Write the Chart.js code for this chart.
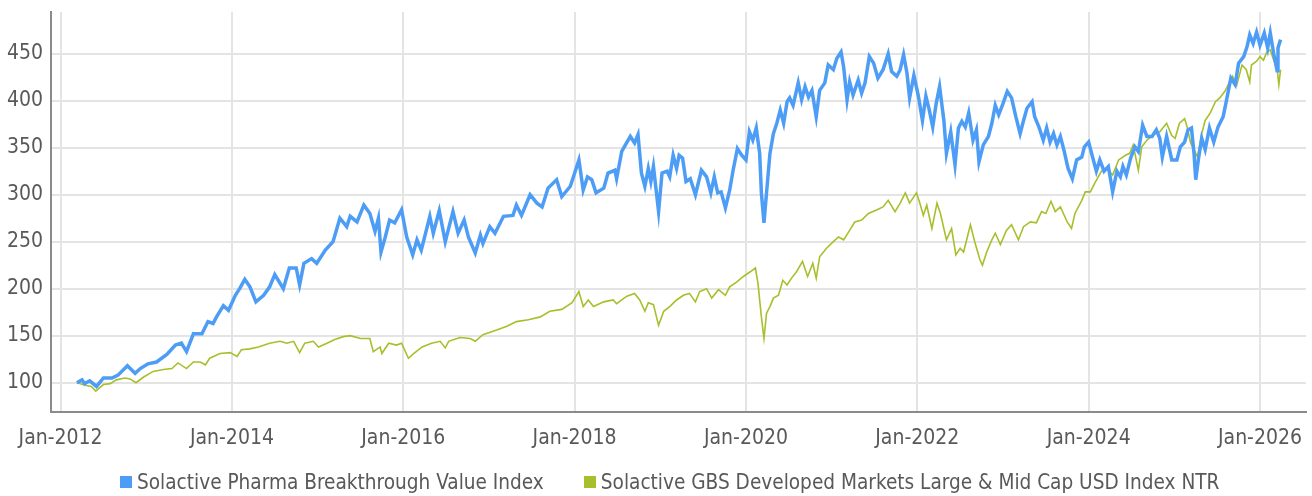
<!DOCTYPE html>
<html>
<head>
<meta charset="utf-8">
<title>Solactive Pharma Breakthrough Value Index</title>
<script src="https://cdn.jsdelivr.net/npm/chart.js@4.4.1/dist/chart.umd.min.js"></script>
<style>
  body { margin: 0; background: #fff; }
  #wrap { width: 1312px; height: 496px; position: relative; }
  #legend {
    position: absolute; left: 120px; top: 470px; height: 24px;
    display: flex; align-items: center;
    font-family: 'Liberation Sans Narrow', 'DejaVu Sans Condensed', Roboto, sans-serif;
    font-size: 20.6px; color: #595959; white-space: nowrap;
  }
  #legend .item { display: flex; align-items: center; margin-right: 40px; }
  #legend .box { width: 12px; height: 12px; margin-right: 5px; }
</style>
</head>
<body>
<div id="wrap">
  <canvas id="perfChart"></canvas>
  <div id="legend"></div>
</div>
<script>
// series names
const seriesNames = [
    'Solactive Pharma Breakthrough Value Index',
    'Solactive GBS Developed Markets Large & Mid Cap USD Index NTR'
];
const seriesColors = ['#4d9df6', '#a8bf2c'];

// dates as decimal years, one line per calendar year
const blueDates = [
    2012.19, 2012.25, 2012.28, 2012.34, 2012.42, 2012.50, 2012.60, 2012.67, 2012.78, 2012.87, 2012.93,
    2013.02, 2013.12, 2013.24, 2013.34, 2013.41, 2013.47, 2013.55, 2013.65, 2013.72, 2013.78, 2013.82, 2013.90, 2013.96,
    2014.04, 2014.09, 2014.15, 2014.21, 2014.28, 2014.37, 2014.44, 2014.50, 2014.60, 2014.67, 2014.75, 2014.79, 2014.84, 2014.93, 2014.99,
    2015.09, 2015.18, 2015.26, 2015.34, 2015.38, 2015.46, 2015.54, 2015.61, 2015.67, 2015.71, 2015.74, 2015.79, 2015.84, 2015.90, 2015.98,
    2016.04, 2016.11, 2016.16, 2016.21, 2016.31, 2016.35, 2016.42, 2016.49, 2016.58, 2016.64, 2016.71, 2016.76, 2016.84, 2016.90, 2016.93,
    2017.01, 2017.07, 2017.17, 2017.28, 2017.32, 2017.38, 2017.48, 2017.56, 2017.62, 2017.69, 2017.79, 2017.85, 2017.95,
    2018.05, 2018.10, 2018.15, 2018.20, 2018.25, 2018.34, 2018.39, 2018.47, 2018.49, 2018.55, 2018.65, 2018.70, 2018.74, 2018.78, 2018.82, 2018.86, 2018.89, 2018.92, 2018.98,
    2019.02, 2019.08, 2019.11, 2019.15, 2019.19, 2019.22, 2019.26, 2019.30, 2019.35, 2019.41, 2019.48, 2019.54, 2019.59, 2019.63, 2019.67, 2019.71, 2019.76, 2019.81, 2019.85, 2019.90, 2019.95,
    2020.00, 2020.04, 2020.08, 2020.12, 2020.16, 2020.18, 2020.21, 2020.24, 2020.28, 2020.32, 2020.36, 2020.40, 2020.44, 2020.48, 2020.51, 2020.55, 2020.61, 2020.65, 2020.69, 2020.73, 2020.77, 2020.82, 2020.86, 2020.92, 2020.96,
    2021.02, 2021.06, 2021.11, 2021.14, 2021.18, 2021.21, 2021.25, 2021.31, 2021.35, 2021.39, 2021.44, 2021.49, 2021.54, 2021.60, 2021.66, 2021.70, 2021.76, 2021.80, 2021.84, 2021.88, 2021.91, 2021.96,
    2022.01, 2022.06, 2022.10, 2022.14, 2022.18, 2022.22, 2022.26, 2022.31, 2022.34, 2022.39, 2022.44, 2022.48, 2022.52, 2022.56, 2022.60, 2022.65, 2022.69, 2022.72, 2022.77, 2022.83, 2022.87, 2022.91, 2022.95,
    2023.00, 2023.05, 2023.10, 2023.15, 2023.20, 2023.24, 2023.28, 2023.34, 2023.37, 2023.42, 2023.47, 2023.51, 2023.55, 2023.59, 2023.63, 2023.67, 2023.71, 2023.76, 2023.81, 2023.86, 2023.92, 2023.95,
    2024.00, 2024.04, 2024.09, 2024.13, 2024.18, 2024.23, 2024.28, 2024.33, 2024.37, 2024.40, 2024.44, 2024.49, 2024.54, 2024.58, 2024.63, 2024.68, 2024.74, 2024.79, 2024.83, 2024.86, 2024.91, 2024.97,
    2025.03, 2025.07, 2025.12, 2025.16, 2025.20, 2025.23, 2025.25, 2025.28, 2025.32, 2025.36, 2025.41, 2025.46, 2025.51, 2025.57, 2025.61, 2025.66, 2025.71, 2025.75, 2025.81, 2025.85, 2025.88, 2025.92, 2025.96,
    2026.00, 2026.05, 2026.09, 2026.12, 2026.16, 2026.20, 2026.21, 2026.24
];
const blueValues = [
    100, 103, 99, 102, 96, 105, 105, 108, 118, 110, 115,
    120, 122, 130, 140, 142, 133, 152, 152, 165, 163, 170, 182, 177,
    193, 200, 210, 202, 186, 193, 202, 215, 200, 222, 222, 204, 227, 232, 227,
    241, 250, 275, 266, 277, 271, 289, 280, 261, 275, 239, 255, 273, 270, 284,
    255, 236, 252, 241, 277, 259, 283, 250, 282, 259, 273, 255, 238, 257, 248,
    266, 259, 277, 278, 289, 278, 300, 291, 287, 307, 316, 298, 309,
    337, 305, 319, 316, 302, 307, 323, 326, 317, 346, 362, 355, 364, 323, 309, 328, 314, 330, 282,
    323, 325, 319, 342, 328, 342, 339, 314, 317, 300, 326, 319, 302, 319, 302, 303, 286, 305, 326, 349, 342,
    337, 367, 358, 371, 344, 302, 270, 302, 344, 365, 376, 390, 376, 399, 403, 395, 419, 401, 415, 404, 411, 383, 411, 419, 438,
    433, 445, 452, 436, 401, 420, 406, 422, 408, 419, 447, 440, 424, 433, 450, 431, 426, 433, 449, 429, 403, 427,
    406, 379, 405, 390, 372, 397, 415, 379, 344, 367, 332, 371, 378, 372, 387, 358, 369, 335, 353, 362, 376, 395, 385,
    397, 410, 403, 383, 365, 379, 392, 399, 383, 372, 358, 371, 356, 365, 353, 362, 348, 328, 317, 337, 340, 351,
    356, 342, 325, 337, 325, 330, 303, 325, 319, 330, 321, 339, 351, 346, 374, 362, 362, 369, 360, 340, 362, 337,
    337, 351, 356, 369, 371, 344, 316, 337, 360, 348, 371, 356, 372, 383, 401, 424, 417, 440, 447, 458, 470, 461, 473,
    459, 472, 456, 472, 450, 432, 456, 465
];

const greenDates = [
    2012.19, 2012.30, 2012.36, 2012.41, 2012.50, 2012.58, 2012.65, 2012.75, 2012.81, 2012.88, 2012.97,
    2013.08, 2013.20, 2013.30, 2013.37, 2013.47, 2013.55, 2013.63, 2013.69, 2013.74, 2013.86, 2013.98,
    2014.06, 2014.11, 2014.21, 2014.31, 2014.44, 2014.56, 2014.64, 2014.72, 2014.79, 2014.85, 2014.95,
    2015.01, 2015.11, 2015.20, 2015.30, 2015.38, 2015.50, 2015.61, 2015.65, 2015.73, 2015.75, 2015.83, 2015.92, 2015.98,
    2016.06, 2016.11, 2016.22, 2016.33, 2016.43, 2016.49, 2016.53, 2016.66, 2016.78, 2016.84, 2016.93,
    2017.09, 2017.21, 2017.32, 2017.46, 2017.60, 2017.71, 2017.85, 2017.97,
    2018.05, 2018.10, 2018.16, 2018.22, 2018.34, 2018.45, 2018.49, 2018.61, 2018.70, 2018.76, 2018.82, 2018.86, 2018.92, 2018.98,
    2019.04, 2019.11, 2019.19, 2019.27, 2019.34, 2019.41, 2019.46, 2019.54, 2019.60, 2019.68, 2019.76, 2019.81, 2019.89, 2019.97,
    2020.05, 2020.11, 2020.14, 2020.18, 2020.21, 2020.24, 2020.28, 2020.32, 2020.38, 2020.43, 2020.48, 2020.53, 2020.59, 2020.66, 2020.72, 2020.78, 2020.82, 2020.86, 2020.94,
    2021.02, 2021.08, 2021.14, 2021.21, 2021.27, 2021.35, 2021.43, 2021.53, 2021.60, 2021.66, 2021.74, 2021.80, 2021.86, 2021.91, 2021.99,
    2022.03, 2022.07, 2022.11, 2022.17, 2022.23, 2022.27, 2022.34, 2022.40, 2022.45, 2022.50, 2022.54, 2022.62, 2022.67, 2022.73, 2022.76, 2022.81, 2022.87, 2022.91, 2022.97,
    2023.04, 2023.10, 2023.18, 2023.24, 2023.32, 2023.39, 2023.45, 2023.50, 2023.56, 2023.61, 2023.67, 2023.75, 2023.80, 2023.84, 2023.92, 2023.96,
    2024.02, 2024.07, 2024.15, 2024.21, 2024.28, 2024.35, 2024.43, 2024.48, 2024.52, 2024.58, 2024.62, 2024.68, 2024.76, 2024.83, 2024.91, 2024.97,
    2025.01, 2025.06, 2025.12, 2025.15, 2025.19, 2025.23, 2025.27, 2025.32, 2025.36, 2025.42, 2025.48, 2025.53, 2025.59, 2025.63, 2025.68, 2025.73, 2025.79, 2025.84, 2025.88, 2025.90, 2025.96,
    2026.00, 2026.04, 2026.08, 2026.12, 2026.16, 2026.20, 2026.22, 2026.24
];
const greenValues = [
    100, 97, 96, 91, 98, 99, 103, 105, 104, 100, 106,
    112, 114, 115, 121, 115, 122, 122, 119, 126, 131, 132,
    128, 135, 136, 138, 142, 144, 142, 144, 132, 142, 144,
    138, 142, 146, 149, 150, 147, 147, 133, 138, 131, 142, 140, 142,
    126, 130, 138, 142, 144, 137, 144, 148, 147, 144, 151,
    156, 160, 165, 167, 170, 176, 178, 185,
    197, 181, 188, 181, 186, 188, 184, 192, 195, 188, 176, 185, 183, 161,
    176, 181, 188, 193, 195, 186, 197, 200, 190, 199, 193, 202, 207, 213,
    218, 222, 206, 170, 147, 174, 181, 190, 193, 209, 204, 211, 218, 229, 213, 227, 211, 234, 243,
    250, 255, 252, 262, 271, 273, 280, 284, 287, 294, 282, 291, 302, 291, 302,
    291, 278, 289, 264, 291, 280, 252, 264, 236, 243, 239, 268, 250, 231, 225, 239, 252, 259, 247,
    262, 268, 252, 266, 271, 270, 282, 280, 293, 282, 287, 271, 264, 280, 294, 303,
    303, 312, 325, 328, 321, 337, 342, 344, 353, 326, 351, 358, 364, 367, 376, 363,
    360, 376, 381, 372, 355, 348, 340, 365, 379, 387, 399, 403, 410, 417, 426, 417, 438, 433, 420, 438, 442,
    447, 443, 452, 454, 443, 434, 417, 433
];

// axis ticks
const xTickYears = [2012, 2014, 2016, 2018, 2020, 2022, 2024, 2026];
const yTickValues = [100, 150, 200, 250, 300, 350, 400, 450];

const FONT = "'Liberation Sans Narrow', 'DejaVu Sans Condensed', Roboto, sans-serif";
const TEXT = '#595959';

function toPoints(dates, values) {
    return dates.map((d, i) => ({ x: d, y: values[i] }));
}

// plain html legend (the chart.js one can't do the wide item gap)
document.getElementById('legend').innerHTML = seriesNames.map((name, i) => `
    <div class="item"><span class="box" style="background:${seriesColors[i]}"></span>${name.replace('&', '&amp;')}</div>
`).join('');

const ctx = document.getElementById('perfChart').getContext('2d');

new Chart(ctx, {
    type: 'line',
    data: {
        datasets: [{
            label: seriesNames[0],
            data: toPoints(blueDates, blueValues),
            borderColor: seriesColors[0],
            backgroundColor: seriesColors[0],
            borderWidth: 3.5,
            pointRadius: 0,
            tension: 0
        }, {
            label: seriesNames[1],
            data: toPoints(greenDates, greenValues),
            borderColor: seriesColors[1],
            backgroundColor: seriesColors[1],
            borderWidth: 1.6,
            pointRadius: 0,
            tension: 0
        }]
    },
    options: {
        responsive: true,
        maintainAspectRatio: false,
        animation: false,
        layout: { padding: { top: 12, right: 6, left: 0, bottom: 36 } },
        scales: {
            x: {
                type: 'linear',
                min: 2011.888,
                max: 2026.537,
                afterBuildTicks: scale => {
                    scale.ticks = xTickYears.map(v => ({ value: v }));
                },
                afterFit: scale => {
                    scale.height = 48;
                    scale.paddingLeft = 0;
                    scale.paddingRight = 0;
                },
                ticks: {
                    callback: v => 'Jan-' + v,
                    color: TEXT,
                    font: { family: FONT, size: 21 },
                    padding: 14,
                    maxRotation: 0
                },
                grid: { color: '#e4e4e4', lineWidth: 2, drawTicks: false },
                border: { display: true, color: '#8a8a8a', width: 2 }
            },
            y: {
                min: 68.8,
                max: 494.4,
                afterBuildTicks: scale => {
                    scale.ticks = yTickValues.map(v => ({ value: v }));
                },
                afterFit: scale => {
                    scale.width = 51;
                    scale.paddingTop = 0;
                    scale.paddingBottom = 0;
                },
                ticks: {
                    color: TEXT,
                    font: { family: FONT, size: 21 },
                    padding: 8
                },
                grid: { color: '#e4e4e4', lineWidth: 2, drawTicks: false },
                border: { display: true, color: '#8a8a8a', width: 2 }
            }
        },
        plugins: {
            legend: { display: false },
            tooltip: { enabled: false }
        }
    }
});
</script>
</body>
</html>
